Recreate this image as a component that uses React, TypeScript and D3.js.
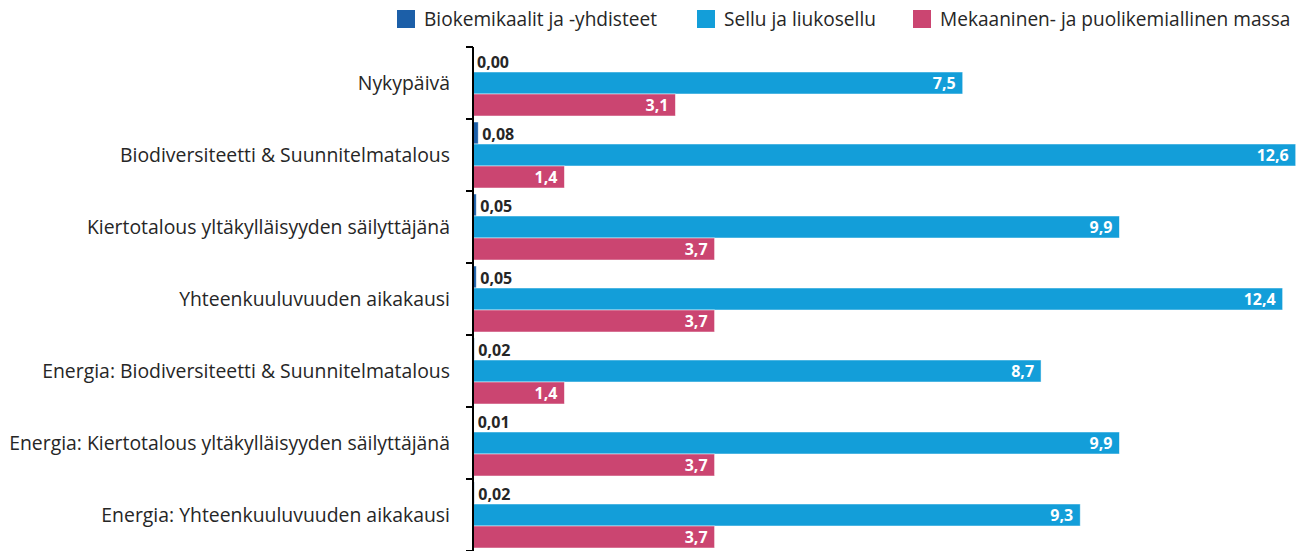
import React from "react";
import * as d3 from "d3";

const categories = [
  "Nykypäivä",
  "Biodiversiteetti & Suunnitelmatalous",
  "Kiertotalous yltäkylläisyyden säilyttäjänä",
  "Yhteenkuuluvuuden aikakausi",
  "Energia: Biodiversiteetti & Suunnitelmatalous",
  "Energia: Kiertotalous yltäkylläisyyden säilyttäjänä",
  "Energia: Yhteenkuuluvuuden aikakausi",
];
const seriesNames = [
  "Biokemikaalit ja -yhdisteet",
  "Sellu ja liukosellu",
  "Mekaaninen- ja puolikemiallinen massa",
];
const biokemikaalit = [0.0, 0.08, 0.05, 0.05, 0.02, 0.01, 0.02];
const sellu = [7.5, 12.6, 9.9, 12.4, 8.7, 9.9, 9.3];
const mekaaninen = [3.1, 1.4, 3.7, 3.7, 1.4, 3.7, 3.7];
const colors = ["#1c5fa8", "#139ed9", "#cb4571"];

const W = 1306;
const H = 551;
const FONT = "'Open Sans', sans-serif";

export default function App() {
  const x = d3.scaleLinear().domain([0, 12.6]).range([473, 1295.7]);
  const y = d3.scaleBand<string>().domain(categories).range([47, 551]).paddingInner(0).paddingOuter(0);
  const series = [biokemikaalit, sellu, mekaaninen];
  const inner = d3.scaleBand<number>().domain([0, 1, 2]).range([3, y.bandwidth() - 3]);
  const fmt = (v: number, d: number) => v.toFixed(d).replace(".", ",");
  const legendX = [397, 697, 913];

  return (
    <svg width={W} height={H} style={{ display: "block", position: "absolute", left: 0, top: 0 }} fontFamily={FONT}>
      {/* legend */}
      {seriesNames.map((n, i) => (
        <g key={n}>
          <rect x={legendX[i]} y={10} width={18} height={18} fill={colors[i]} />
          <text x={legendX[i] + 27} y={26} fontSize={19.1} fill="#262626">{n}</text>
        </g>
      ))}
      {/* bars */}
      {categories.map((c, ci) => (
        <g key={c} transform={`translate(0,${y(c)})`}>
          {series.map((s, si) => {
            const v = s[ci];
            const by = inner(si)!;
            const bh = inner.bandwidth();
            const w = x(v) - x(0);
            return (
              <g key={si}>
                <rect x={x(0)} y={by} width={Math.max(w, 0)} height={bh} fill={colors[si]} stroke="#fff" strokeOpacity={0.6} strokeWidth={0.8} />
                {si === 0 ? (
                  <text x={x(v) + 4} y={by + bh / 2 + 7} fontSize={16} fontWeight={700} fill="#262626">{fmt(v, 2)}</text>
                ) : (
                  <text x={x(v) - 7} y={by + bh / 2 + 6} fontSize={16} fontWeight={700} fill="#fff" textAnchor="end">{fmt(v, 1)}</text>
                )}
              </g>
            );
          })}
          <text x={450} y={y.bandwidth() / 2 + 7} fontSize={19.4} fill="#262626" textAnchor="end">{c}</text>
        </g>
      ))}
      {/* axis */}
      <line x1={x(0)} x2={x(0)} y1={47} y2={551} stroke="#000" strokeWidth={2} />
      {d3.range(categories.length + 1).map((i) => {
        const ty = 47 + i * y.bandwidth();
        return <line key={i} x1={466} x2={x(0)} y1={ty} y2={ty} stroke="#000" strokeWidth={2} />;
      })}
    </svg>
  );
}
